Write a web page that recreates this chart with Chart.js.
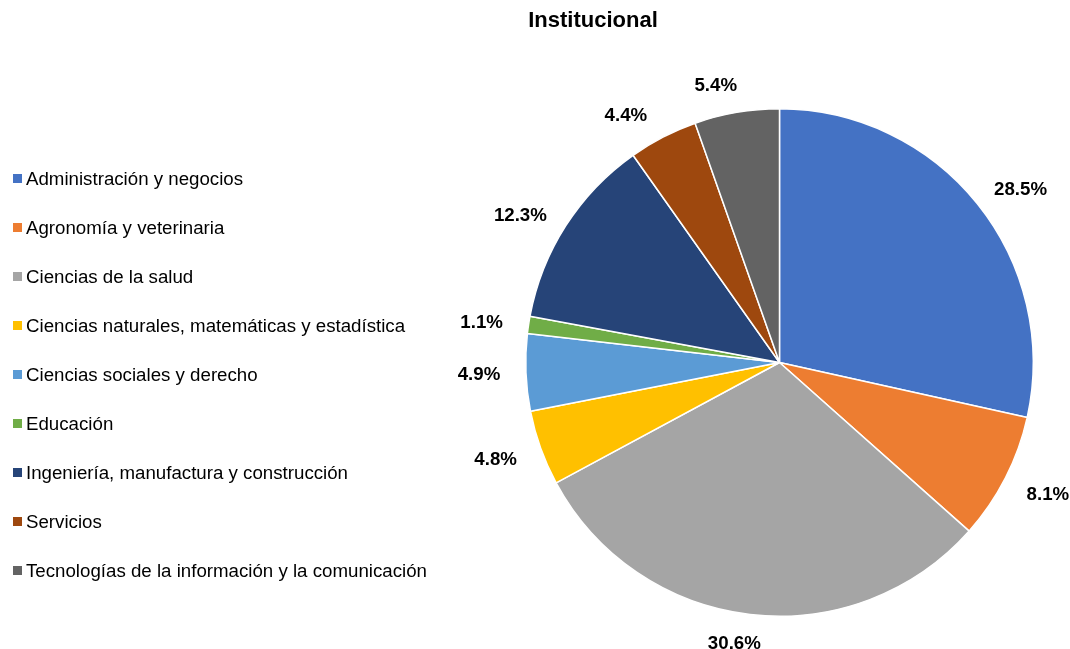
<!DOCTYPE html>
<html>
<head>
<meta charset="utf-8">
<script src="https://cdn.jsdelivr.net/npm/chart.js@4.4.1/dist/chart.umd.min.js"></script>
<style>
  html, body { margin: 0; padding: 0; background: #fff; }
  #wrap { width: 1070px; height: 649px; position: relative; }
</style>
</head>
<body>
<div id="wrap"><canvas id="pieChart" width="1070" height="649"></canvas></div>
<script>
// ---------------------------------------------------------------------------
// Data
// ---------------------------------------------------------------------------
const chartTitle = 'Institucional';
const categories = [
    'Administración y negocios',
    'Agronomía y veterinaria',
    'Ciencias de la salud',
    'Ciencias naturales, matemáticas y estadística',
    'Ciencias sociales y derecho',
    'Educación',
    'Ingeniería, manufactura y construcción',
    'Servicios',
    'Tecnologías de la información y la comunicación'
];
const shares = [28.5, 8.1, 30.6, 4.8, 4.9, 1.1, 12.3, 4.4, 5.4];
const sliceColors = ['#4472C4', '#ED7D31', '#A5A5A5', '#FFC000', '#5B9BD5', '#70AD47', '#264478', '#9E480E', '#636363'];

// small angular shift (degrees, clockwise) of each label, like the original layout
const labelShiftDeg = [3, -1, 2.5, 1, 0, -0.8, -3, -4.5, -3.2];

const FONT = '"Liberation Sans", Arial, sans-serif';

// ---------------------------------------------------------------------------
// Title, legend and data labels drawn on the canvas
// ---------------------------------------------------------------------------
const decorations = {
    id: 'decorations',
    afterDatasetsDraw(chart) {
        const ctx = chart.ctx;
        ctx.save();

        // title
        ctx.fillStyle = '#000';
        ctx.font = 'bold 22px ' + FONT;
        ctx.textAlign = 'center';
        ctx.textBaseline = 'middle';
        ctx.fillText(chartTitle, 593, 21);

        // legend
        ctx.font = '18.7px ' + FONT;
        ctx.textAlign = 'left';
        categories.forEach((name, i) => {
            const y = 178.5 + i * 49;
            ctx.fillStyle = sliceColors[i];
            ctx.fillRect(13, y - 4.5, 9, 9);
            ctx.fillStyle = '#000';
            ctx.fillText(name, 26, y + 1);
        });

        // percentage labels outside the slices
        ctx.font = 'bold 18.7px ' + FONT;
        ctx.textAlign = 'center';
        const meta = chart.getDatasetMeta(0);
        meta.data.forEach((arc, i) => {
            const mid = (arc.startAngle + arc.endAngle) / 2 + labelShiftDeg[i] * Math.PI / 180;
            const dx = Math.cos(mid);
            const dy = Math.sin(mid);
            const dist = arc.outerRadius + 27 + 20 * Math.abs(dx);
            ctx.fillStyle = '#000';
            ctx.fillText(shares[i].toFixed(1) + '%', arc.x + dx * dist, arc.y + dy * dist + 1);
        });

        ctx.restore();
    }
};

document.addEventListener('DOMContentLoaded', () => {
    const canvas = document.getElementById('pieChart');
    new Chart(canvas, {
        type: 'pie',
        data: {
            labels: categories,
            datasets: [{
                data: shares,
                backgroundColor: sliceColors,
                borderColor: '#ffffff',
                borderWidth: 1.5,
                hoverOffset: 0
            }]
        },
        options: {
            responsive: false,
            animation: false,
            layout: {
                padding: { left: 525, right: 36, top: 108, bottom: 32 }
            },
            plugins: {
                legend: { display: false },
                title: { display: false },
                tooltip: { enabled: false }
            }
        },
        plugins: [decorations]
    });
});
</script>
</body>
</html>
